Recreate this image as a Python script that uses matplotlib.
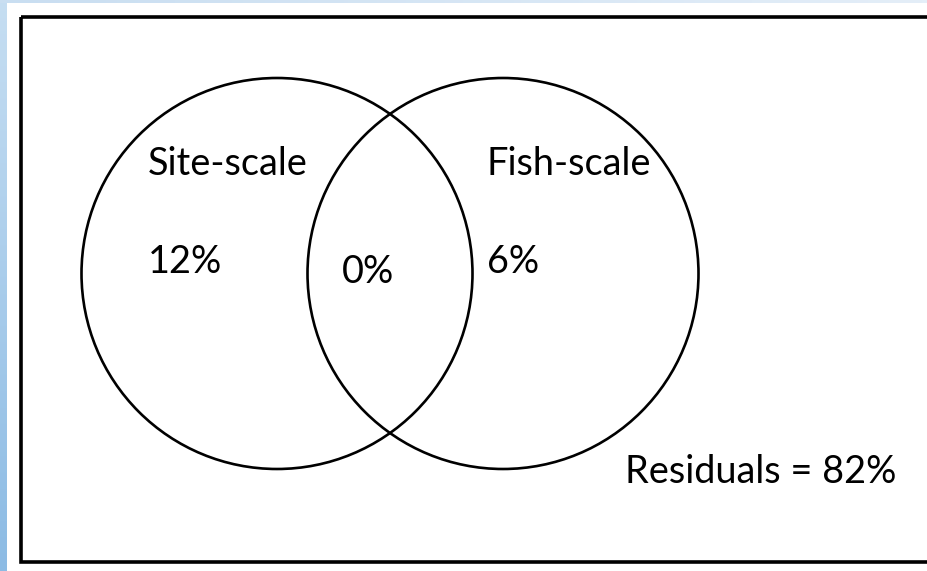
import numpy as np
import matplotlib.pyplot as plt
from matplotlib.colors import LinearSegmentedColormap
from matplotlib.patches import Circle, Rectangle

plt.rcParams['font.family'] = ['Lato', 'DejaVu Sans']

# Venn diagram values
sets = ['Site-scale', 'Fish-scale']
unique_pct = [12, 6]
shared_pct = 0
residual_pct = 82

W, H = 927, 571
fig = plt.figure(figsize=(W / 100, H / 100), dpi=100)
ax = fig.add_axes([0, 0, 1, 1])
ax.set_xlim(0, W)
ax.set_ylim(H, 0)
ax.axis('off')

# light blue slide edge on left and top
ax.imshow(np.linspace(0, 1, 256).reshape(-1, 1), extent=[0, 7, H, 0],
          cmap=LinearSegmentedColormap.from_list('edge', ['#c6def2', '#8cbbe4']),
          aspect='auto', zorder=0)
ax.imshow(np.linspace(0, 1, 256).reshape(1, -1), extent=[0, W, 3, 0],
          cmap=LinearSegmentedColormap.from_list('top', ['#c9def1', '#e4eef8']),
          aspect='auto', zorder=0)

# frame
ax.add_patch(Rectangle((21, 16.5), 940, 545.5, fill=False, ec='black', lw=2.6, zorder=2))

# circles
r = 195.5
centers = [(277, 273.5), (503, 273.5)]
for cx, cy in centers:
    ax.add_patch(Circle((cx, cy), r, fill=False, ec='black', lw=1.9, zorder=3))

fs = 27.3
name_x = [148, 487]
for nm, pct, x in zip(sets, unique_pct, name_x):
    ax.text(x, 175, nm, fontsize=fs, ha='left', va='baseline', zorder=4)
    ax.text(x, 273, f'{pct}%', fontsize=fs, ha='left', va='baseline', zorder=4)
ax.text(342, 283, f'{shared_pct}%', fontsize=fs, ha='left', va='baseline', zorder=4)
ax.text(625, 483, f'Residuals = {residual_pct}%', fontsize=fs, ha='left', va='baseline', zorder=4)

fig.savefig('out.png', dpi=100)
